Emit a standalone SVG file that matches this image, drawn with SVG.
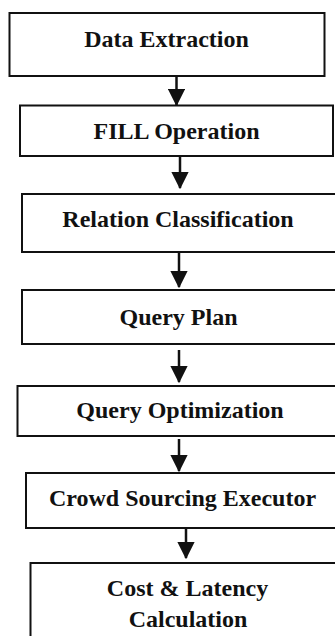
<svg xmlns="http://www.w3.org/2000/svg" width="335" height="636" viewBox="0 0 335 636">
<style>
.box{fill:#fff;stroke:#111;stroke-width:2}
.lbl{font-family:"Liberation Serif","Times New Roman",serif;font-weight:bold;font-size:24px;fill:#111;text-anchor:middle}
.ln{stroke:#111;stroke-width:2.5;fill:none}
</style>
<defs>
<marker id="ah" markerWidth="7" markerHeight="7" refX="6.5" refY="3.5" orient="auto" markerUnits="strokeWidth" viewBox="0 0 7 7">
<path d="M0,0 L7,3.5 L0,7 Z" fill="#111"/>
</marker>
</defs>
<rect width="335" height="636" fill="#fff"/>
<g id="connectors">
<line class="ln" x1="176.5" y1="76" x2="176.5" y2="105" marker-end="url(#ah)"/>
<line class="ln" x1="180" y1="156" x2="180" y2="188" marker-end="url(#ah)"/>
<line class="ln" x1="179" y1="252" x2="179" y2="287" marker-end="url(#ah)"/>
<line class="ln" x1="179" y1="350" x2="179" y2="382" marker-end="url(#ah)"/>
<line class="ln" x1="179" y1="439" x2="179" y2="471" marker-end="url(#ah)"/>
<line class="ln" x1="186" y1="528" x2="186" y2="558" marker-end="url(#ah)"/>
</g>
<g id="n1"><rect class="box" x="9.5" y="13" width="315" height="63"/><text class="lbl" x="166.5" y="47">Data Extraction</text></g>
<g id="n2"><rect class="box" x="20" y="105.5" width="313" height="50.5"/><text class="lbl" x="176.5" y="139">FILL Operation</text></g>
<g id="n3"><rect class="box" x="22" y="194" width="320" height="58"/><text class="lbl" x="178" y="227">Relation Classification</text></g>
<g id="n4"><rect class="box" x="22" y="290" width="320" height="54"/><text class="lbl" x="178.5" y="325">Query Plan</text></g>
<g id="n5"><rect class="box" x="17.5" y="386" width="330" height="50"/><text class="lbl" x="180" y="418">Query Optimization</text></g>
<g id="n6"><rect class="box" x="26" y="473" width="320" height="55"/><text class="lbl" x="182.5" y="506">Crowd Sourcing Executor</text></g>
<g id="n7"><rect class="box" x="30.5" y="563" width="320" height="90"/><text class="lbl" x="187.5" y="596">Cost &amp; Latency</text><text class="lbl" x="188" y="627">Calculation</text></g>
</svg>
